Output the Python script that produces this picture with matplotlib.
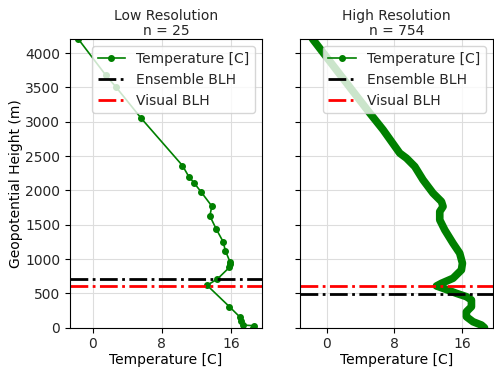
import matplotlib
matplotlib.use('Agg')
import matplotlib.pyplot as plt
from matplotlib.lines import Line2D

# low resolution sounding (25 levels)
low_temp = [-1.9, -1.65, 1.54, 2.70, 5.6, 10.39, 11.13, 11.74, 12.52, 13.8, 13.57, 14.3,
            15.1, 15.37, 15.92, 15.9, 15.84, 14.45, 13.25, 15.84, 17.08, 17.23, 17.39,
            18.74, 18.6]
low_hgt = [4350, 4200, 3673, 3504, 3052, 2362, 2201, 2109, 1983, 1770, 1628, 1439,
           1254, 1122, 953, 930, 880, 710, 618, 306, 152, 98, 39, 29, 0]

# high resolution sounding
high_temp = [-2.1, -1.58, 5.09, 6.66, 8.62, 9.41, 10.39, 11.36, 12.54, 13.53, 13.72,
             13.33, 13.33, 13.92, 14.89, 15.68, 16.0, 15.88, 14.89, 13.53, 12.94,
             13.72, 15.29, 16.47, 17.06, 17.06, 16.47, 16.47, 17.25, 18.24, 18.6]
high_hgt = [4300, 4194, 3125, 2882, 2542, 2469, 2347, 2153, 1959, 1837, 1764,
            1691, 1570, 1424, 1230, 1085, 939, 841, 720, 647, 608,
            574, 501, 452, 404, 306, 233, 160, 87, 39, 0]

ens_blh = [710, 487]
vis_blh = [608, 608]
titles = ['Low Resolution\nn = 25', 'High Resolution\nn = 754']

plt.rcParams['text.color'] = '#262626'
plt.rcParams['xtick.labelcolor'] = '#262626'
plt.rcParams['ytick.labelcolor'] = '#262626'

fig = plt.figure(figsize=(4.94, 3.67), dpi=100)
ax1 = fig.add_axes([0.1417, 0.107, 0.389, 0.786])
ax2 = fig.add_axes([0.607, 0.107, 0.391, 0.786], sharey=ax1)

ax1.plot(low_temp, low_hgt, 'o-', color='green', lw=1.2, ms=4)
ax2.plot(high_temp, high_hgt, '-', color='green', lw=5.5, solid_joinstyle='round',
         solid_capstyle='round')

for i, ax in enumerate([ax1, ax2]):
    ax.axhline(ens_blh[i], color='black', ls='-.', lw=2)
    ax.axhline(vis_blh[i], color='red', ls='-.', lw=2)
    ax.set_title(titles[i], fontsize=10, pad=3, linespacing=1.1)
    ax.set_xlabel('Temperature [C]', fontsize=10, labelpad=1)
    ax.set_xticks([0, 8, 16])
    ax.grid(True, color='#dddddd', lw=0.8)
    handles = [Line2D([], [], color='green', marker='o', lw=1.2, ms=4),
               Line2D([], [], color='black', ls='-.', lw=2),
               Line2D([], [], color='red', ls='-.', lw=2)]
    ax.legend(handles, ['Temperature [C]', 'Ensemble BLH', 'Visual BLH'],
              loc='upper right', fontsize=10)

ax1.set_xlim(-2.63, 19.63)
ax2.set_xlim(-3.14, 19.6)
ax1.set_ylim(0, 4200)
ax1.set_ylabel('Geopotential Height (m)', fontsize=10, labelpad=1.5)
plt.setp(ax2.get_yticklabels(), visible=False)

fig.savefig('out.png', dpi=100)
